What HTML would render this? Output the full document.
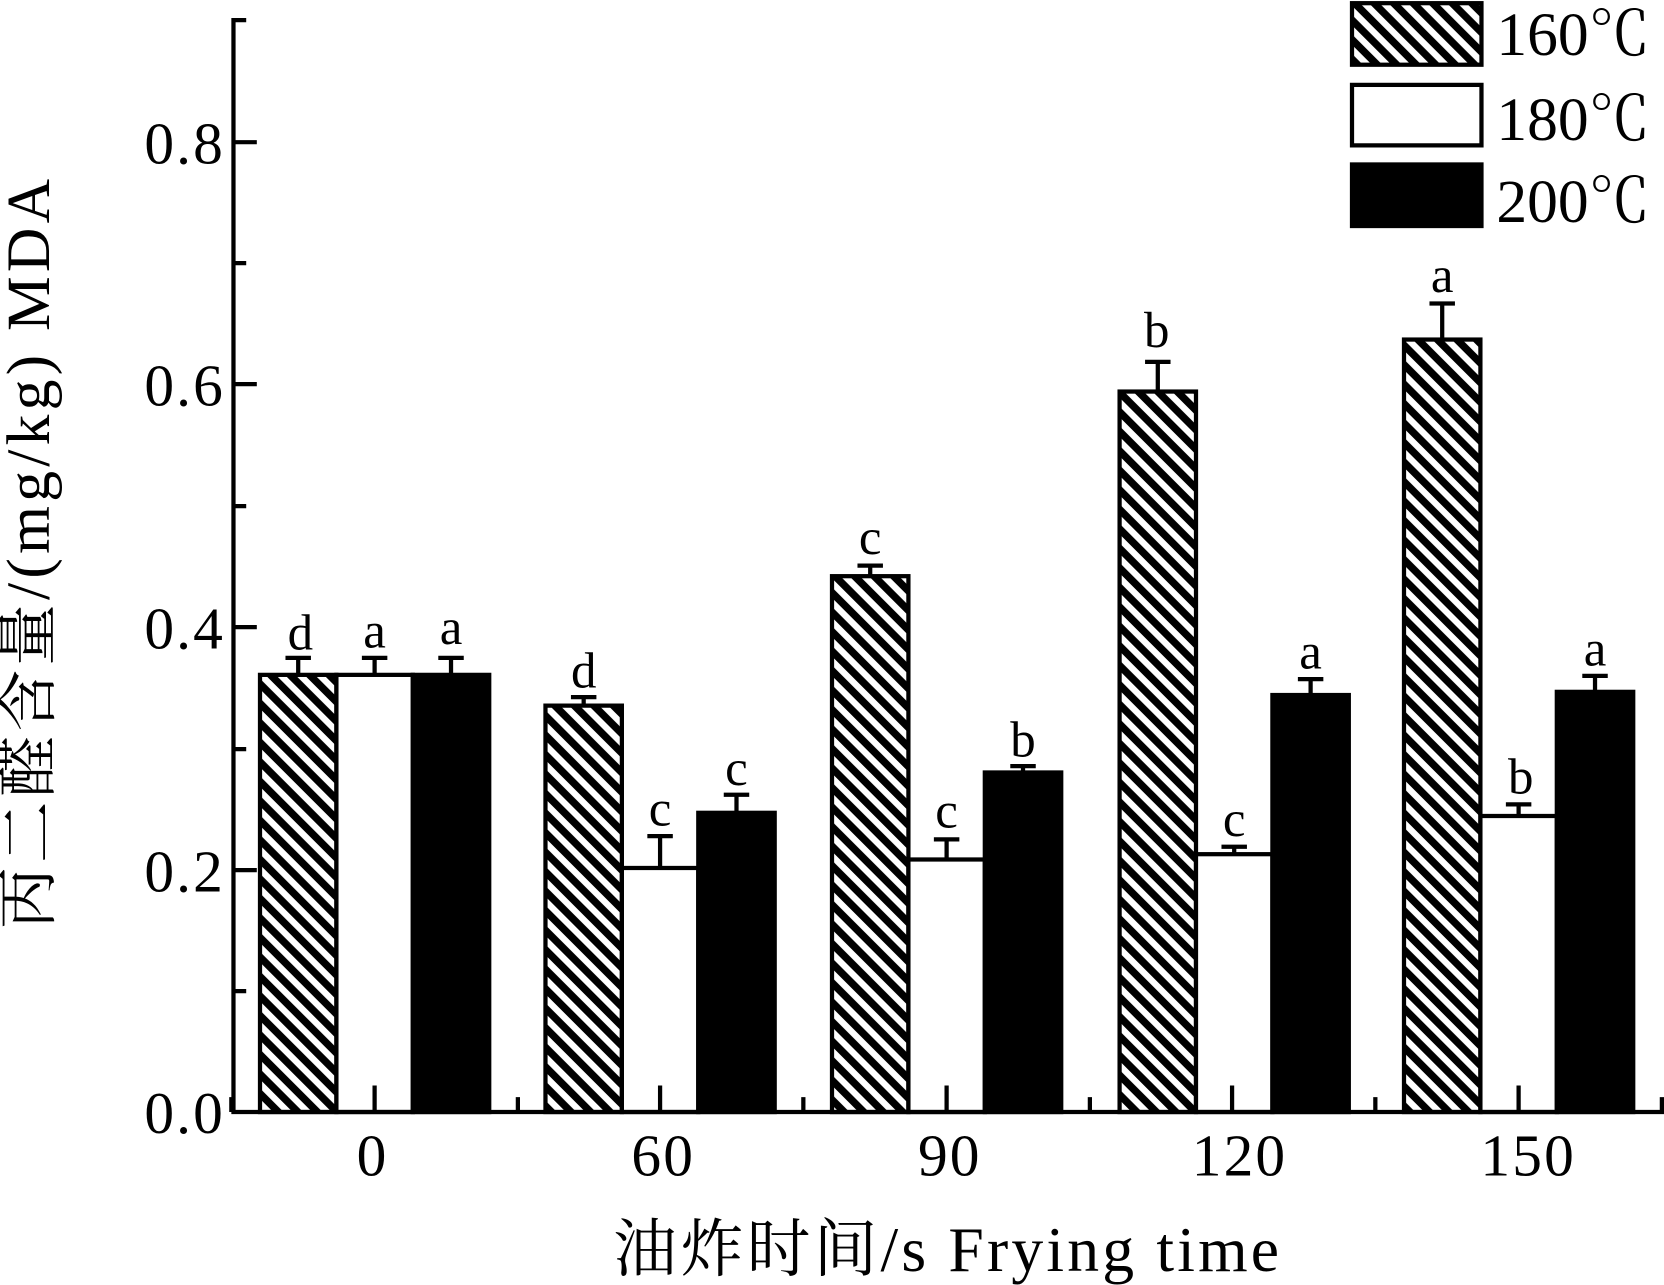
<!DOCTYPE html>
<html><head><meta charset="utf-8"><style>html,body{margin:0;padding:0;background:#fff}svg{display:block}</style></head>
<body>
<svg width="1664" height="1285" viewBox="0 0 1568 1211" preserveAspectRatio="none" xmlns="http://www.w3.org/2000/svg" font-family="Liberation Serif, Noto Serif CJK SC, serif">
<defs>
<pattern id="h" patternUnits="userSpaceOnUse" width="13" height="13" patternTransform="rotate(-45)">
<rect width="13" height="13" fill="#fff"/><rect x="0" y="0" width="7" height="13" fill="#000"/>
</pattern>
</defs>
<rect width="1568" height="1211" fill="#fff"/>
<g stroke="#000" stroke-width="4">
<rect x="245" y="636" width="72" height="412" fill="url(#h)"/>
<rect x="317" y="636" width="72" height="412" fill="#fff"/>
<rect x="389" y="636" width="72" height="412" fill="#000"/>
<rect x="514" y="665" width="72" height="383" fill="url(#h)"/>
<rect x="586" y="818" width="72" height="230" fill="#fff"/>
<rect x="658" y="766" width="72" height="282" fill="#000"/>
<rect x="784" y="543" width="72" height="505" fill="url(#h)"/>
<rect x="856" y="810" width="72" height="238" fill="#fff"/>
<rect x="928" y="728" width="72" height="320" fill="#000"/>
<rect x="1055" y="369" width="72" height="679" fill="url(#h)"/>
<rect x="1127" y="805" width="72" height="243" fill="#fff"/>
<rect x="1199" y="655" width="72" height="393" fill="#000"/>
<rect x="1323" y="320" width="72" height="728" fill="url(#h)"/>
<rect x="1395" y="769" width="72" height="279" fill="#fff"/>
<rect x="1467" y="652" width="72" height="396" fill="#000"/>
</g>
<g stroke="#000" stroke-width="4" fill="none">
<path d="M281 636V620M269 620H293M353 636V620M341 620H365M425 636V620M413 620H437"/>
<path d="M550 665V657M538 657H562M622 818V788M610 788H634M694 766V749M682 749H706"/>
<path d="M820 543V533M808 533H832M892 810V791M880 791H904M964 728V722M952 722H976"/>
<path d="M1091 369V341M1079 341H1103M1163 805V798M1151 798H1175M1235 655V640M1223 640H1247"/>
<path d="M1359 320V286M1347 286H1371M1431 769V758M1419 758H1443M1503 652V637M1491 637H1515"/>
</g>
<g font-size="48" text-anchor="middle" fill="#000">
<text x="283" y="612">d</text><text x="353" y="610">a</text><text x="425" y="607">a</text>
<text x="550" y="648">d</text><text x="622" y="778">c</text><text x="694" y="740">c</text>
<text x="820" y="522">c</text><text x="892" y="780">c</text><text x="964" y="713">b</text>
<text x="1090" y="327">b</text><text x="1163" y="788">c</text><text x="1235" y="630">a</text>
<text x="1359" y="275">a</text><text x="1433" y="748">b</text><text x="1503" y="627">a</text>
</g>
<g stroke="#000" stroke-width="4" fill="none">
<path d="M220 18V1050M218 1048H1568M218 19H232"/>
<path d="M220 134H242M220 362H242M220 591H242M220 820H242M220 248H232M220 477H232M220 706H232M220 934H232"/>
<path d="M353 1048V1023M622 1048V1023M892 1048V1023M1161 1048V1023M1431 1048V1023M218 1048V1034M488 1048V1034M757 1048V1034M1027 1048V1034M1296 1048V1034M1566 1048V1034"/>
</g>
<g font-size="56" fill="#000" text-anchor="end" letter-spacing="2">
<text x="212" y="1068">0.0</text><text x="212" y="840">0.2</text><text x="212" y="611">0.4</text><text x="212" y="382">0.6</text><text x="212" y="154">0.8</text>
</g>
<g font-size="56" fill="#000" text-anchor="middle" letter-spacing="2">
<text x="351" y="1108">0</text><text x="625" y="1108">60</text><text x="895" y="1108">90</text><text x="1168" y="1108">120</text><text x="1440" y="1108">150</text>
</g>
<g fill="#000" text-anchor="middle">
<text x="893" y="1198" font-size="60" letter-spacing="3">油炸时间/s Frying time</text>
<text transform="translate(46,520) rotate(-90)" font-size="58" letter-spacing="4">丙二醛含量/(mg/kg) MDA</text>
</g>
<g stroke="#000" stroke-width="4">
<rect x="1274" y="3" width="122" height="58" fill="url(#h)"/>
<rect x="1274" y="80" width="122" height="57" fill="#fff"/>
<rect x="1274" y="155" width="122" height="58" fill="#000"/>
</g>
<g font-size="58" fill="#000">
<text x="1410" y="52">160℃</text><text x="1410" y="132">180℃</text><text x="1410" y="209">200℃</text>
</g>
</svg>
</body></html>
